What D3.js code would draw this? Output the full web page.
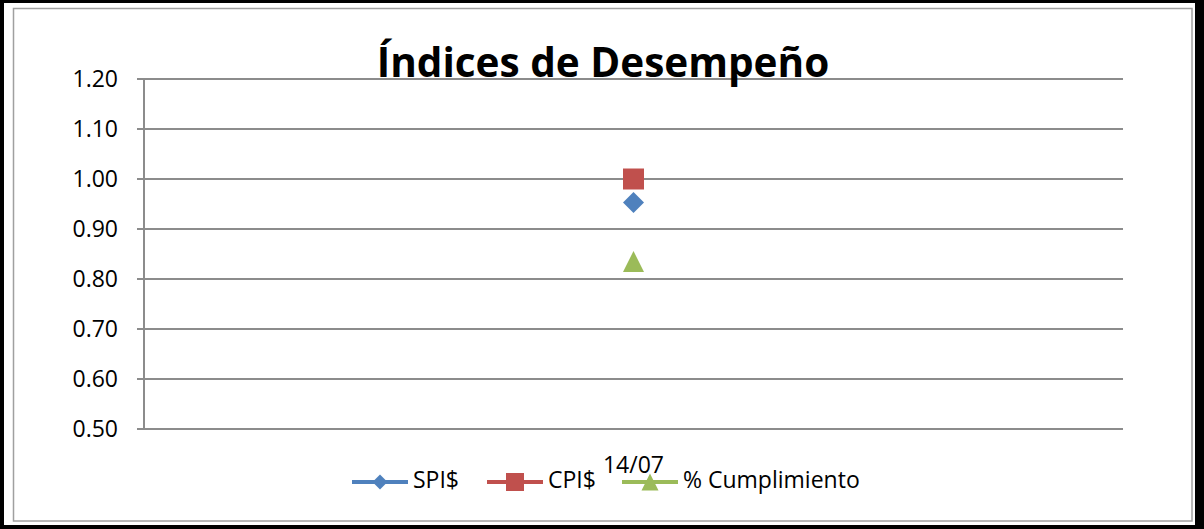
<!DOCTYPE html>
<html><head><meta charset="utf-8">
<script src="https://cdn.jsdelivr.net/npm/d3@7"></script>
<style>html,body{margin:0;padding:0;background:#000;}svg{display:block;}</style>
</head><body>
<svg id="c" width="1204" height="529"></svg>
<script>
const title = "Índices de Desempeño";
const categories = ["14/07"];
const seriesNames = ["SPI$", "CPI$", "% Cumplimiento"];
const spi = [0.953];
const cpi = [1.00];
const cumplimiento = [0.835];
const yTicks = [0.50, 0.60, 0.70, 0.80, 0.90, 1.00, 1.10, 1.20];
const colors = ["#4F81BD", "#C0504D", "#9BBB59"];

(function(){
// box-centred marker shapes; size = bounding-box width
const diamondT = {draw(ctx, s){ const h = s/2; ctx.moveTo(0,-h); ctx.lineTo(h,0); ctx.lineTo(0,h); ctx.lineTo(-h,0); ctx.closePath(); }};
const squareT = {draw(ctx, s){ const h = s/2; ctx.rect(-h,-h,s,s); }};
const triT = {draw(ctx, s){ const h = s/2; ctx.moveTo(0,-h); ctx.lineTo(h,h); ctx.lineTo(-h,h); ctx.closePath(); }};
const symbols = [diamondT, squareT, triT];

const svg = d3.select("#c");
const font = "'Open Sans', 'Noto Sans', sans-serif";

svg.append("rect").attr("x",0).attr("y",0).attr("width",1204).attr("height",529).attr("fill","#000");
svg.append("rect").attr("x",4).attr("y",3).attr("width",1191).attr("height",522).attr("fill","#fff");
svg.append("rect").attr("x",13.5).attr("y",8.5).attr("width",1178.5).attr("height",512.5)
  .attr("fill","none").attr("stroke","#a0a0a0").attr("stroke-width",1.5);

const pL = 144, pR = 1123, pT = 79, pB = 429;
const y = d3.scaleLinear().domain([0.5, 1.2]).range([pB, pT]);
const x = d3.scaleBand().domain(categories).range([pL, pR]);

svg.append("g").selectAll("line").data(yTicks).join("line")
  .attr("x1", pL - 7).attr("x2", pR)
  .attr("y1", d => y(d)).attr("y2", d => y(d))
  .attr("stroke", "#8c8c8c").attr("stroke-width", 2);

svg.append("line").attr("x1", pL).attr("x2", pL).attr("y1", pT).attr("y2", pB)
  .attr("stroke", "#8c8c8c").attr("stroke-width", 2);

svg.append("g").selectAll("text").data(yTicks).join("text")
  .attr("x", 118).attr("y", d => y(d)).attr("dy", "0.36em")
  .attr("text-anchor", "end").attr("font-family", font).attr("font-size", 23)
  .attr("fill", "#000").text(d => d.toFixed(2));

svg.append("g").selectAll("text").data(categories).join("text")
  .attr("x", d => x(d) + x.bandwidth()/2).attr("y", 473)
  .attr("text-anchor", "middle").attr("font-family", font).attr("font-size", 23)
  .attr("fill", "#000").text(d => d);

svg.append("text").attr("x", 603).attr("y", 77).attr("text-anchor", "middle")
  .attr("font-family", font).attr("font-weight", "bold").attr("font-size", 40.5)
  .attr("fill", "#000").text(title);

const seriesData = [spi, cpi, cumplimiento];
seriesData.forEach((vals, i) => {
  svg.append("g").selectAll("path").data(vals).join("path")
    .attr("d", d3.symbol().type(symbols[i]).size(21))
    .attr("transform", (d, j) => `translate(${x(categories[j]) + x.bandwidth()/2},${y(d)})`)
    .attr("fill", colors[i]);
});

const legX = [352, 487, 622];
const legY = 482;
const legSize = [15, 18, 17];
seriesNames.forEach((name, i) => {
  const g = svg.append("g").attr("transform", `translate(${legX[i]},${legY})`);
  g.append("line").attr("x1", 0).attr("x2", 56).attr("y1", 0).attr("y2", 0)
    .attr("stroke", colors[i]).attr("stroke-width", 4);
  g.append("path").attr("d", d3.symbol().type(symbols[i]).size(legSize[i])())
    .attr("transform", `translate(28,0)`).attr("fill", colors[i]);
  g.append("text").attr("x", 61).attr("y", 6)
    .attr("font-family", font).attr("font-size", 23).attr("fill", "#000").text(name);
});
})();
</script>
</body></html>
